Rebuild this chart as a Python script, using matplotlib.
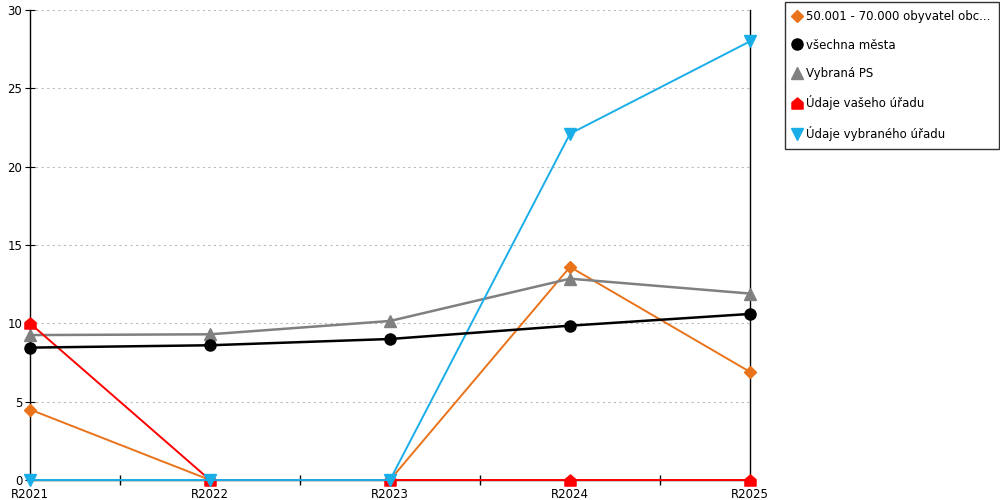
import numpy as np
import matplotlib
matplotlib.use("Agg")
import matplotlib.pyplot as plt
from matplotlib.lines import Line2D
from matplotlib.path import Path

years = ["R2021", "R2022", "R2023", "R2024", "R2025"]
obce = [4.5, 0.0, 0.0, 13.6, 6.9]
vsechna = [8.45, 8.6, 9.0, 9.85, 10.6]
vybrana_ps = [9.25, 9.3, 10.15, 12.85, 11.9]
vas_urad = [10.0, 0.0, 0.0, 0.0, 0.0]
vybrany_urad = [0.0, 0.0, 0.0, 22.1, 28.0]

plt.rcParams['font.family'] = ['DejaVu Sans']

# house shaped marker for the red series
house = Path([(-1, -1), (1, -1), (1, 0.15), (0, 1), (-1, 0.15), (-1, -1)],
             [Path.MOVETO, Path.LINETO, Path.LINETO, Path.LINETO, Path.LINETO, Path.CLOSEPOLY])

series = [
    ("50.001 - 70.000 obyvatel obc...", obce, "#E8731A", "D", 1.4, 6),
    ("všechna města", vsechna, "#000000", "o", 1.8, 8),
    ("Vybraná PS", vybrana_ps, "#808080", "^", 1.8, 8),
    ("Údaje vašeho úřadu", vas_urad, "#FF0000", house, 1.4, 8),
    ("Údaje vybraného úřadu", vybrany_urad, "#1AAEE8", "v", 1.4, 8),
]

fig = plt.figure(figsize=(10, 5), dpi=100)
ax = fig.add_axes([0.03, 0.04, 0.72, 0.94])
x = np.arange(len(years))

handles = []
for i, (name, vals, col, mk, lw, ms) in enumerate(series):
    z = 3 + i
    if name == "všechna města":
        z = 7.5
    ax.plot(x, vals, color=col, lw=lw, marker=mk, markersize=ms, zorder=z, clip_on=False)
    handles.append(Line2D([], [], color=col, marker=mk, linestyle="none", markersize=ms))

ax.set_xlim(0, 4)
ax.set_ylim(0, 30)
ax.set_yticks(np.arange(0, 31, 5))
ax.set_xticks(x)
ax.set_xticks(x[:-1] + 0.5, minor=True)
ax.set_xticklabels(years)
ax.tick_params(axis="x", which="major", length=0, labelsize=8.5, pad=6)
ax.tick_params(axis="x", which="minor", length=7, direction="inout", width=1)
ax.tick_params(axis="y", length=7, direction="inout", labelsize=8.5, pad=2)
ax.grid(axis="y", color="#bbbbbb", linestyle=(0, (2, 3)), lw=0.8)
ax.set_axisbelow(True)
for s in ["left", "right", "bottom"]:
    ax.spines[s].set_color("black")
    ax.spines[s].set_linewidth(1)
ax.spines["top"].set_visible(False)

leg = fig.legend(handles, [s[0] for s in series], loc="upper left",
                 bbox_to_anchor=(0.785, 0.996), fontsize=8.5, frameon=True,
                 fancybox=False, edgecolor="black", labelspacing=1.3,
                 handlelength=0.7, handletextpad=0.4, borderpad=0.7,
                 borderaxespad=0)
leg.get_frame().set_linewidth(1)

fig.savefig("out.png", dpi=100)
